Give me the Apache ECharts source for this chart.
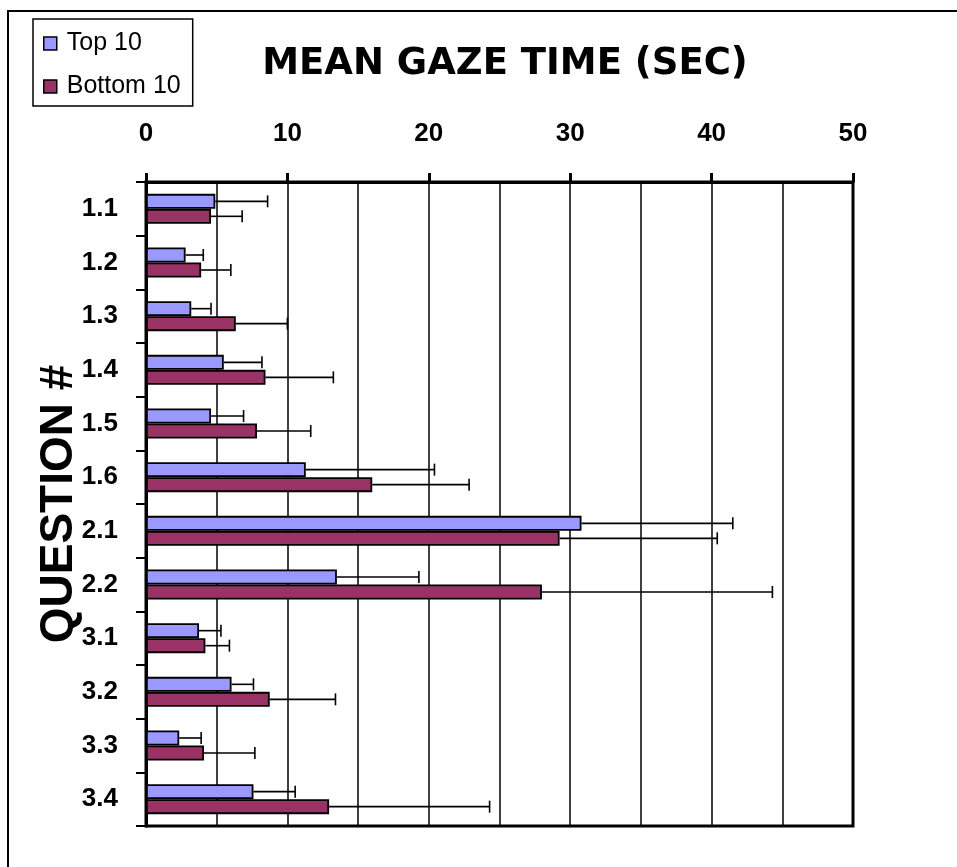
<!DOCTYPE html>
<html>
<head>
<meta charset="utf-8">
<script src="https://cdn.jsdelivr.net/npm/echarts@6/dist/echarts.min.js"></script>
<style>html,body{margin:0;padding:0;background:#fff}#c{width:957px;height:867px}</style>
</head>
<body>
<div id="c"></div>
<script>
const categories = ['1.1','1.2','1.3','1.4','1.5','1.6','2.1','2.2','3.1','3.2','3.3','3.4'];
const top10Mean = [4.9, 2.8, 3.2, 5.5, 4.6, 11.3, 30.8, 13.5, 3.75, 6.05, 2.35, 7.6];
const top10Upper = [8.6, 4.05, 4.6, 8.2, 6.9, 20.4, 41.5, 19.3, 5.3, 7.6, 3.9, 10.55];
const bottom10Mean = [4.6, 3.9, 6.35, 8.45, 7.85, 16.0, 29.25, 28.0, 4.2, 8.75, 4.1, 12.95];
const bottom10Upper = [6.8, 6.0, 10.0, 13.25, 11.65, 22.85, 40.4, 44.3, 5.9, 13.4, 7.7, 24.3];
const xTicks = [0, 10, 20, 30, 40, 50];

const BAR_W = 15;
const chart = echarts.init(document.getElementById('c'));

function errSeries(name, means, uppers, dir) {
  return {
    type: 'custom',
    name: name + ' err',
    silent: true,
    z: 5,
    data: categories.map((c, i) => [i, means[i], uppers[i]]),
    encode: { x: [1, 2], y: 0 },
    renderItem: function (params, api) {
      const idx = api.value(0);
      const p0 = api.coord([api.value(1), idx]);
      const p1 = api.coord([api.value(2), idx]);
      const y = p0[1] + dir * BAR_W / 2;
      const cap = 6;
      const st = { stroke: '#000', lineWidth: 1.6 };
      return {
        type: 'group',
        children: [
          { type: 'line', shape: { x1: p0[0], y1: y, x2: p1[0], y2: y }, style: st },
          { type: 'line', shape: { x1: p1[0], y1: y - cap, x2: p1[0], y2: y + cap }, style: st }
        ]
      };
    }
  };
}

const option = {
  animation: false,
  backgroundColor: '#fff',
  title: {
    text: 'MEAN GAZE TIME (SEC)',
    left: 500, top: 41, textAlign: 'center',
    textStyle: { fontFamily: 'DejaVu Sans', fontWeight: 'bold', fontSize: 37, color: '#000' }
  },
  legend: {
    orient: 'vertical',
    left: 33, top: 19,
    padding: [12, 12, 7, 10],
    itemGap: 18,
    itemWidth: 13, itemHeight: 13,
    icon: 'rect',
    borderColor: '#000', borderWidth: 1.5,
    data: ['Top 10', 'Bottom 10'],
    itemStyle: { borderColor: '#000', borderWidth: 1.5 },
    textStyle: { fontFamily: 'Liberation Sans', fontSize: 25, color: '#000', lineHeight: 25, padding: [0, 0, 0, 5] }
  },
  grid: {
    left: 146, right: 104, top: 182, bottom: 41,
    show: true, borderColor: '#000', borderWidth: 3, backgroundColor: 'transparent'
  },
  xAxis: {
    type: 'value',
    position: 'top',
    min: xTicks[0], max: xTicks[xTicks.length - 1], interval: 10,
    axisLine: { show: true, lineStyle: { color: '#000', width: 3 } },
    axisTick: { show: true, inside: false, length: 9, lineStyle: { color: '#000', width: 3 } },
    minorTick: { show: false, splitNumber: 2 },
    splitLine: { show: true, lineStyle: { color: '#000', width: 1.5 } },
    minorSplitLine: { show: true, lineStyle: { color: '#000', width: 1.5 } },
    axisLabel: {
      margin: 35,
      fontFamily: 'Liberation Sans', fontWeight: 'bold', fontSize: 26, color: '#000',
      formatter: v => xTicks.indexOf(v) >= 0 ? String(v) : ''
    }
  },
  yAxis: {
    type: 'category',
    data: categories,
    inverse: true,
    name: 'QUESTION #',
    nameLocation: 'middle',
    nameRotate: 90,
    nameGap: 64,
    nameMoveOverlap: false,
    nameTextStyle: { fontFamily: 'Liberation Sans', fontWeight: 'bold', fontSize: 46, color: '#000' },
    axisLine: { show: true, lineStyle: { color: '#000', width: 3 } },
    axisTick: { show: true, inside: false, length: 10, alignWithLabel: false, lineStyle: { color: '#000', width: 2 } },
    axisLabel: {
      margin: 28,
      fontFamily: 'Liberation Sans', fontWeight: 'bold', fontSize: 26, color: '#000'
    }
  },
  graphic: [
    { type: 'rect', shape: { x: 8, y: 11, width: 1200, height: 1200 }, style: { fill: 'none', stroke: '#000', lineWidth: 2 }, z: 100, silent: true }
  ],
  series: [
    {
      type: 'bar', name: 'Top 10', data: top10Mean,
      barWidth: BAR_W, barGap: '0%',
      itemStyle: { color: '#9999FF', borderColor: '#000', borderWidth: 1.8 }
    },
    {
      type: 'bar', name: 'Bottom 10', data: bottom10Mean,
      barWidth: BAR_W, barGap: '0%',
      itemStyle: { color: '#993366', borderColor: '#000', borderWidth: 1.8 }
    },
    errSeries('Top 10', top10Mean, top10Upper, -1),
    errSeries('Bottom 10', bottom10Mean, bottom10Upper, 1)
  ]
};
chart.setOption(option);
</script>
</body>
</html>
